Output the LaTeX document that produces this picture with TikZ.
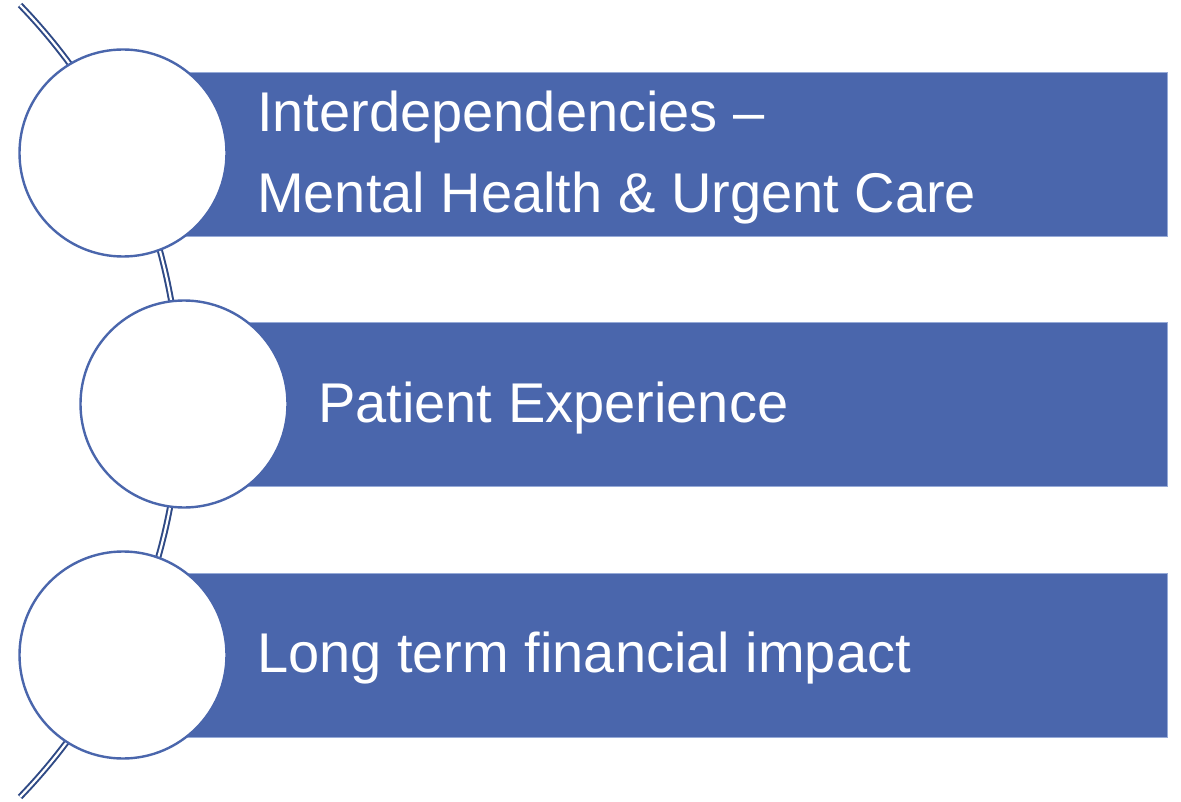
\documentclass[tikz,border=0pt]{standalone}
\usepackage{fontspec}
\setmainfont{Liberation Sans}
\usetikzlibrary{calc}
\definecolor{barblue}{RGB}{74,102,172}
\definecolor{arcblue}{RGB}{47,74,134}
\tikzset{
  circ/.style={circle, draw=barblue, line width=2.4pt, fill=white, minimum size=207pt, inner sep=0pt},
  bar/.style={rectangle, fill=barblue, draw={rgb,255:red,150;green,170;blue,215}, line width=0.8pt, anchor=west, minimum height=164pt, inner sep=0pt},
  lbl/.style={text=white, anchor=base west, inner sep=0pt, font=\fontsize{56}{81}\selectfont},
  spine/.style={draw=arcblue, line width=2pt, double=white, double distance=2.2pt}
}
\begin{document}
\begin{tikzpicture}[x=1pt,y=-1pt]
\useasboundingbox (0,0) rectangle (1181,802);
\coordinate (ctr) at (-390,401);
\coordinate (top) at ($(ctr)+(-44:570)$);
\draw[spine] (top) arc[start angle=-44, end angle=44, radius=570];
\node[bar, minimum width=1045pt] (b1) at (122,154) {};
\node[bar, minimum width=984pt] (b2) at (183,404.5) {};
\node[bar, minimum width=1045pt] (b3) at (122,655) {};
\node[circ] (c1) at (123,153) {};
\node[circ] (c2) at (184,404) {};
\node[circ] (c3) at (123,655) {};
\node[lbl] (t1a) at (257,132) {Interdependencies –};
\node[lbl] (t1b) at (257,213) {Mental Health \& Urgent Care};
\node[lbl] (t2) at (318,422) {Patient Experience};
\node[lbl] (t3) at (257,672) {Long term financial impact};
\end{tikzpicture}
\end{document}
